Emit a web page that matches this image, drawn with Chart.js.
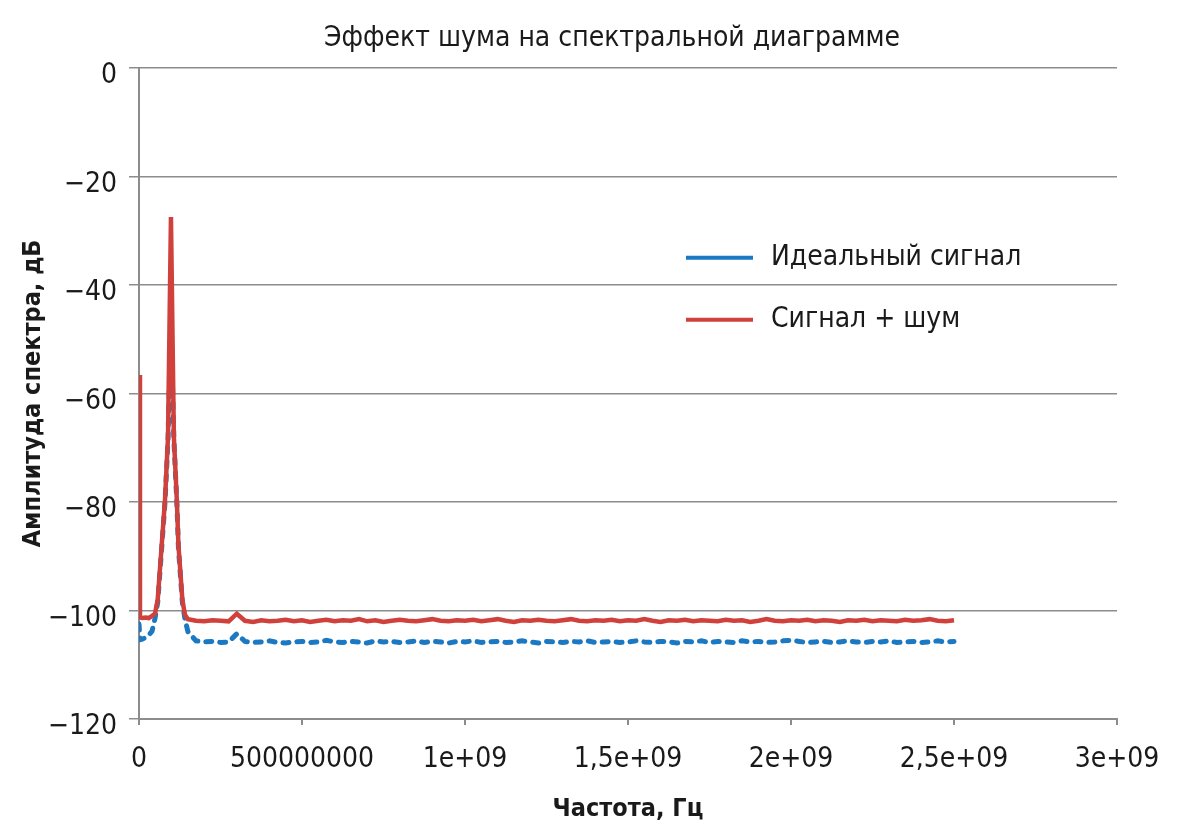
<!DOCTYPE html>
<html>
<head>
<meta charset="utf-8">
<script src="https://cdn.jsdelivr.net/npm/chart.js@4/dist/chart.umd.min.js"></script>
<style>
  html, body { margin: 0; padding: 0; background: #fff; }
  #wrap { width: 1201px; height: 839px; }
</style>
</head>
<body>
<div id="wrap"><canvas id="c"></canvas></div>
<script>
const chartTitle = 'Эффект шума на спектральной диаграмме';
const xTitle = 'Частота, Гц';
const yTitle = 'Амплитуда спектра, дБ';
const seriesNames = ['Идеальный сигнал', 'Сигнал + шум'];
const xTickLabels = ['0', '500000000', '1e+09', '1,5e+09', '2e+09', '2,5e+09', '3e+09'];

// frequency, Hz
const freqHz = [
  0, 3e6, 1e7, 2e7, 3e7, 4e7, 4.9e7, 5.74e7, 6.9e7, 7.98e7, 8.9e7, 9.8e7, 1.07e8, 1.16e8, 1.21e8, 1.33e8, 1.41e8,
  1.5e8, 1.75e8, 2.0e8, 2.25e8, 2.5e8, 2.75e8, 3.0e8, 3.25e8, 3.5e8, 3.75e8,
  4.0e8, 4.25e8, 4.5e8, 4.75e8, 5.0e8, 5.25e8, 5.5e8, 5.75e8, 6.0e8, 6.25e8,
  6.5e8, 6.75e8, 7.0e8, 7.25e8, 7.5e8, 7.75e8, 8.0e8, 8.25e8, 8.5e8, 8.75e8,
  9.0e8, 9.25e8, 9.5e8, 9.75e8, 1.0e9, 1.025e9, 1.05e9, 1.075e9, 1.1e9, 1.125e9,
  1.15e9, 1.175e9, 1.2e9, 1.225e9, 1.25e9, 1.275e9, 1.3e9, 1.325e9, 1.35e9, 1.375e9,
  1.4e9, 1.425e9, 1.45e9, 1.475e9, 1.5e9, 1.525e9, 1.55e9, 1.575e9, 1.6e9, 1.625e9,
  1.65e9, 1.675e9, 1.7e9, 1.725e9, 1.75e9, 1.775e9, 1.8e9, 1.825e9, 1.85e9, 1.875e9,
  1.9e9, 1.925e9, 1.95e9, 1.975e9, 2.0e9, 2.025e9, 2.05e9, 2.075e9, 2.1e9, 2.125e9,
  2.15e9, 2.175e9, 2.2e9, 2.225e9, 2.25e9, 2.275e9, 2.3e9, 2.325e9, 2.35e9, 2.375e9,
  2.4e9, 2.425e9, 2.45e9, 2.475e9, 2.5e9
];

// ideal signal, dB
const idealDb = [
  -102.5, -105.4, -105.3, -105.0, -104.6, -103.8, -101.5, -98.5, -89, -80, -68.5, -47, -68.5, -80, -88.5, -98.5, -101.6,
  -103.9, -105.6, -105.8, -105.7, -105.9, -105.8, -104.3, -105.7, -105.9, -105.8,
  -105.6, -105.9, -106.0, -105.8, -105.7, -105.9, -105.8, -105.5, -105.8, -105.9,
  -105.7, -105.8, -106.0, -105.6, -105.8, -105.7, -105.9, -105.8, -105.6, -105.9,
  -105.7, -105.8, -106.0, -105.7, -105.8, -105.6, -105.9, -105.8, -105.7, -105.9,
  -105.8, -105.6, -105.8, -106.0, -105.7, -105.8, -105.9, -105.7, -105.8, -105.6,
  -105.9, -105.8, -105.7, -105.9, -105.8, -105.6, -105.8, -105.9, -105.7, -105.8,
  -106.0, -105.7, -105.8, -105.6, -105.9, -105.7, -105.8, -105.9, -105.6, -105.8,
  -105.7, -105.9, -105.8, -105.6, -105.5, -105.7, -105.9, -105.8, -105.7, -105.9,
  -105.8, -105.6, -105.8, -105.9, -105.7, -105.8, -105.6, -105.9, -105.8, -105.7,
  -105.9, -105.8, -105.6, -105.8, -105.7
];

// signal + noise, dB
const noisyDb = [
  -56.6, -101.3, -101.4, -101.3, -101.4, -101.0, -100.6, -98, -88.5, -79.6, -68, -27.5, -68, -79.6, -88, -98, -100.8,
  -101.6, -101.9, -102.0, -101.8, -101.9, -102.0, -100.6, -101.9, -102.1, -101.8,
  -102.0, -101.9, -101.7, -102.0, -101.8, -102.1, -101.9, -101.7, -102.0, -101.8,
  -101.9, -101.6, -102.0, -101.8, -102.1, -101.9, -101.7, -101.9, -102.0, -101.8,
  -101.6, -101.9, -102.0, -101.8, -101.9, -101.7, -102.0, -101.8, -101.6, -101.9,
  -102.1, -101.8, -101.9, -101.7, -101.9, -102.0, -101.8, -101.6, -101.9, -102.0,
  -101.8, -101.9, -101.7, -102.0, -101.8, -101.9, -101.6, -101.9, -102.1, -101.8,
  -101.9, -101.7, -102.0, -101.8, -101.9, -102.0, -101.7, -101.9, -101.8, -102.1,
  -101.9, -101.6, -101.9, -102.0, -101.8, -101.9, -101.7, -102.0, -101.8, -101.9,
  -102.1, -101.8, -101.9, -101.7, -102.0, -101.8, -101.9, -102.0, -101.7, -101.9,
  -101.8, -101.6, -101.9, -102.0, -101.8
];

const FONT = '"DejaVu Sans Condensed", "Liberation Sans Narrow", sans-serif';
const BLUE = '#1b78c2';
const RED = '#d0413b';
const GRID = '#8c8c8c';

const toPts = (ys) => freqHz.map((f, i) => ({ x: f, y: ys[i] }));

// shift the title block so it is centred where the original one sits
const titleShift = {
  id: 'titleShift',
  afterLayout(chart) {
    const tb = chart.titleBlock;
    if (tb) { tb.left = tb.left + 89; }
  }
};

const insideLegend = {
  id: 'insideLegend',
  afterDatasetsDraw(chart) {
    const { ctx, chartArea } = chart;
    const x0 = chartArea.left + 547;
    const rows = [chartArea.top + 190, chartArea.top + 252];
    ctx.save();
    chart.data.datasets.forEach((ds, i) => {
      const y = rows[i];
      ctx.beginPath();
      ctx.strokeStyle = ds.borderColor;
      ctx.lineWidth = 4;
      ctx.setLineDash([]);
      ctx.moveTo(x0, y);
      ctx.lineTo(x0 + 67, y);
      ctx.stroke();
      ctx.fillStyle = '#1a1a1a';
      ctx.font = '28px ' + FONT;
      ctx.textBaseline = 'middle';
      ctx.textAlign = 'left';
      ctx.fillText(ds.label, x0 + 85, y);
    });
    ctx.restore();
  }
};

new Chart(document.getElementById('c'), {
  type: 'line',
  data: {
    datasets: [
      {
        label: seriesNames[0],
        data: toPts(idealDb),
        borderColor: BLUE,
        borderWidth: 5,
        borderDash: [6, 8],
        borderCapStyle: 'round',
        pointRadius: 0,
        tension: 0,
        order: 2
      },
      {
        label: seriesNames[1],
        data: toPts(noisyDb),
        borderColor: RED,
        borderWidth: 4.5,
        pointRadius: 0,
        tension: 0,
        order: 1
      }
    ]
  },
  options: {
    responsive: true,
    maintainAspectRatio: false,
    animation: false,
    layout: { padding: { left: 18, right: 84, top: 0, bottom: 14 } },
    plugins: {
      legend: { display: false },
      tooltip: { enabled: false },
      title: {
        display: true,
        text: chartTitle,
        color: '#1a1a1a',
        font: { family: FONT, size: 28, weight: 'normal', lineHeight: 1.1 },
        padding: { top: 23, bottom: 14 }
      }
    },
    scales: {
      x: {
        type: 'linear',
        min: 0,
        max: 3e9,
        afterFit(scale) { scale.height = 106; },
        afterBuildTicks(scale) {
          scale.ticks = xTickLabels.map((_, i) => ({ value: i * 5e8 }));
        },
        ticks: {
          color: '#1a1a1a',
          font: { family: FONT, size: 28 },
          padding: 18,
          maxRotation: 0,
          autoSkip: false,
          callback: (v, i) => xTickLabels[i]
        },
        grid: { drawOnChartArea: false, drawTicks: true, tickLength: 6, color: GRID, lineWidth: 2 },
        border: { display: true, color: GRID, width: 2 },
        title: {
          display: true,
          text: xTitle,
          color: '#1a1a1a',
          font: { family: FONT, size: 25, weight: 'bold' },
          padding: { top: 4, bottom: 1 }
        }
      },
      y: {
        min: -120,
        max: 0,
        afterFit(scale) { scale.width = 139 - 18; },
        ticks: {
          stepSize: 20,
          color: '#1a1a1a',
          font: { family: FONT, size: 28 },
          padding: 12,
          labelOffset: 8,
          callback: (v) => String(v).replace('-', '\u2212')
        },
        grid: { color: GRID, lineWidth: 1.5, tickLength: 10 },
        border: { display: true, color: GRID, width: 2 },
        title: {
          display: true,
          text: yTitle,
          color: '#1a1a1a',
          font: { family: FONT, size: 25, weight: 'bold' },
          padding: { top: 0, bottom: 0 }
        }
      }
    }
  },
  plugins: [titleShift, insideLegend]
});
</script>
</body>
</html>
